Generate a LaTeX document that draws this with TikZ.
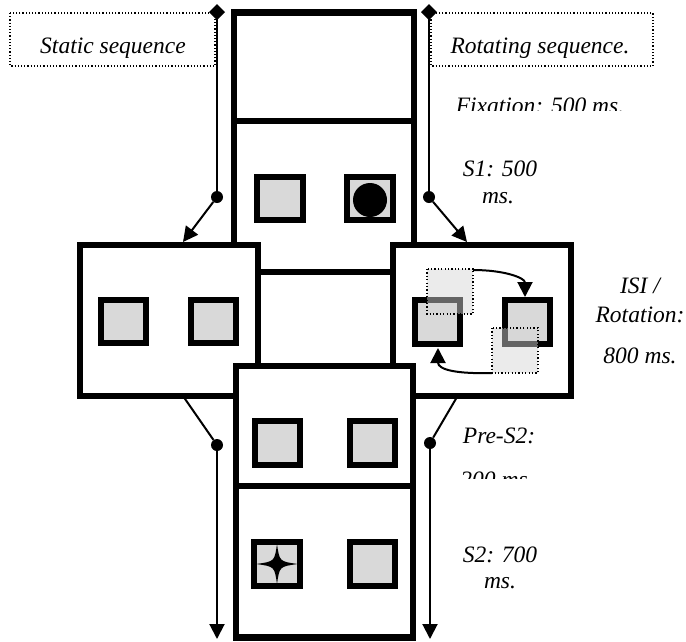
\documentclass[tikz,border=0pt]{standalone}
\usepackage{fontspec}
\setmainfont{Liberation Serif}
\usetikzlibrary{arrows.meta}
\definecolor{sqgray}{RGB}{217,217,217}
\definecolor{dsqgray}{RGB}{213,213,213}
\begin{document}
\begin{tikzpicture}[x=1pt,y=-1pt,
  frame/.style={draw=black,fill=white,line width=6.5pt},
  sq/.style={draw=black,fill=sqgray,line width=6.5pt},
  dsq/.style={draw=black,line width=2.2pt,dash pattern=on 1.2pt off 2.2pt,fill=dsqgray,fill opacity=0.47},
  conn/.style={line width=2pt,-{Triangle[length=15pt,width=15pt]}},
  plain/.style={line width=2pt},
  dotnode/.style={circle,fill=black,inner sep=0pt,minimum size=12pt},
  lbl/.style={font=\fontsize{23.5}{28}\selectfont\itshape,inner sep=0pt,anchor=base},
  dotbox/.style={draw=black,line width=2.2pt,dash pattern=on 1.2pt off 2pt}]
\useasboundingbox (0,0) rectangle (686,641);

% dotted title boxes
\draw[dotbox] (10,13) rectangle (215,66);
\draw[dotbox] (431,13) rectangle (653,66);
\node[lbl] (tstatic) at (113,53) {Static sequence};
\node[lbl] (trot) at (540,53) {Rotating sequence.};

% frames
\draw[frame] (234,12.5) rectangle (414,121);
\draw[frame] (234,121) rectangle (414,272);
\draw[frame] (80,245) rectangle (258,396);
\draw[frame] (393,245) rectangle (571,396);
\draw[frame] (236,366) rectangle (413,486);
\draw[frame] (236,486) rectangle (413,637.5);

% S1 stimuli
\draw[sq] (257,177) rectangle (303,220);
\draw[sq] (347,177) rectangle (393,220);
\fill[black] (370,200) circle (17);

% static ISI
\draw[sq] (101,300) rectangle (146,343);
\draw[sq] (191,300) rectangle (236,343);

% rotating ISI
\draw[sq] (415,300) rectangle (460,344);
\draw[sq] (505,300) rectangle (550,344);
\draw[dsq] (427,269) rectangle (473,314);
\draw[dsq] (492,328) rectangle (538,373);
\coordinate (ua) at (473,270);
\coordinate (ub) at (525,297);
\coordinate (la) at (492,373);
\coordinate (lb) at (438,348);
\draw[conn] (ua) .. controls (505,270) and (525,278) .. (ub);
\draw[conn] (la) .. controls (458,374) and (438,370) .. (lb);

% Pre-S2
\draw[sq] (255,421) rectangle (300,465);
\draw[sq] (350,421) rectangle (395,465);

% S2
\draw[sq] (254,542) rectangle (300,586);
\draw[sq] (350,542) rectangle (395,586);
\fill[black] (277,544) .. controls (279.5,561.5) .. (298,564)
  .. controls (279.5,566.5) .. (277,584)
  .. controls (274.5,566.5) .. (256,564)
  .. controls (274.5,561.5) .. cycle;

% connectors, left
\coordinate (dl) at (217,12);
\fill[black] (217,4) -- (225,12) -- (217,20) -- (209,12) -- cycle;
\node[dotnode] (ldot) at (217,197) {};
\coordinate (ltip) at (183,242);
\draw[plain] (dl) -- (ldot);
\draw[conn] (ldot) -- (ltip);
\coordinate (ls) at (183,396);
\node[dotnode] (ldot2) at (217,445) {};
\coordinate (lend) at (217,639);
\draw[plain] (ls) -- (ldot2);
\draw[conn] (ldot2) -- (lend);

% connectors, right
\coordinate (dr) at (429,12);
\fill[black] (429,4) -- (437,12) -- (429,20) -- (421,12) -- cycle;
\node[dotnode] (rdot) at (429,197) {};
\coordinate (rtip) at (467,242);
\draw[plain] (dr) -- (rdot);
\draw[conn] (rdot) -- (rtip);
\coordinate (rs) at (457,397);
\node[dotnode] (rdot2) at (430,443) {};
\coordinate (rend) at (430,639);
\draw[plain] (rs) -- (rdot2);
\draw[conn] (rdot2) -- (rend);

% labels
\begin{scope}
  \clip (420,70) rectangle (686,110);
  \node[lbl] (tfix) at (540,113) {Fixation: 500 ms.};
\end{scope}
\node[lbl] (ts1a) at (500,176) {S1: 500};
\node[lbl] (ts1b) at (498,203) {ms.};
\node[lbl] (tisia) at (640,293) {ISI /};
\node[lbl] (tisib) at (640,322) {Rotation:};
\node[lbl] (tisic) at (640,363) {800 ms.};
\node[lbl] (tpre) at (499,443) {Pre-S2:};
\begin{scope}
  \clip (440,450) rectangle (600,478);
  \node[lbl] (tpreb) at (497,487) {200 ms.};
\end{scope}
\node[lbl] (ts2a) at (500,562) {S2: 700};
\node[lbl] (ts2b) at (500,588) {ms.};
\end{tikzpicture}
\end{document}
